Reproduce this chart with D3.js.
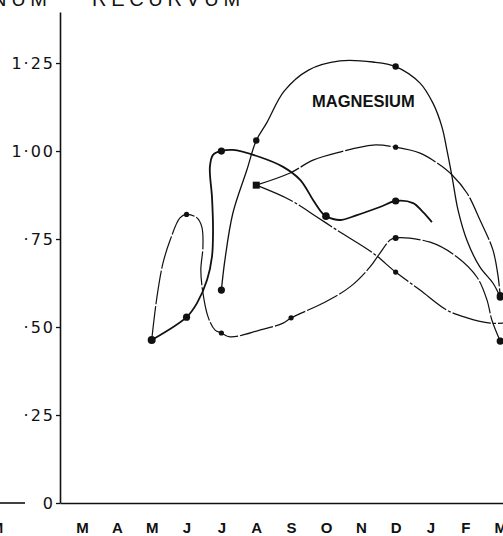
<!DOCTYPE html>
<html><head><meta charset="utf-8">
<script src="https://cdn.jsdelivr.net/npm/d3@7"></script>
<style>html,body{margin:0;padding:0;background:#fff;overflow:hidden}</style>
</head><body><svg id="c" width="503" height="536"></svg>
<script>
// ---- DATA (month index: 0 = March ... 12 = following March) ----
const monthLabels = ["M","A","M","J","J","A","S","O","N","D","J","F","M"];
const yTickValues = [0, 0.25, 0.5, 0.75, 1.0, 1.25];
const yTickLabels = ["0","·25","·50","·75","1·00","1·25"];
const titleParts = ["NUM", "RECURVUM"];
const seriesLabel = "MAGNESIUM";

// Magnesium (marked observations)
const magMonths = [4, 5, 9, 12];
const magValues = [0.605, 1.03, 1.24, 0.585];
// Magnesium curve as drawn
const magTraceMonths = [4, 4.1, 4.33, 4.73, 5, 5.3, 5.8, 6.5, 7.4, 8.35, 9, 9.7, 10.07, 10.33, 10.47, 10.62, 10.79, 11.05, 11.42, 11.79, 12];
const magTraceValues = [0.605, 0.69, 0.824, 0.946, 1.03, 1.08, 1.17, 1.23, 1.256, 1.253, 1.24, 1.193, 1.136, 1.068, 1.003, 0.926, 0.832, 0.745, 0.67, 0.625, 0.585];

// Series B
const bMonths = [2, 3, 4, 7, 9];
const bValues = [0.463, 0.528, 1.0, 0.815, 0.858];
const bTraceMonths = [2, 3, 3.3, 3.59, 3.73, 3.76, 3.73, 3.67, 3.76, 4, 4.33, 5.1, 5.77, 6.26, 6.63, 6.89, 7, 7.4, 7.89, 8.55, 9, 9.5, 9.78, 10.04];
const bTraceValues = [0.463, 0.528, 0.568, 0.634, 0.70, 0.776, 0.869, 0.955, 0.989, 1.0, 1.003, 0.983, 0.955, 0.918, 0.861, 0.824, 0.815, 0.804, 0.818, 0.841, 0.858, 0.852, 0.827, 0.798];

// Series C
const cMonths = [3, 4, 6, 9, 12];
const cValues = [0.82, 0.483, 0.526, 0.753, 0.46];
const cTraceMonths = [2, 2.15, 2.32, 2.53, 2.81, 3, 3.3, 3.44, 3.47, 3.41, 3.47, 3.62, 3.82, 4, 4.25, 5.1, 5.77, 6, 6.92, 7.69, 8.26, 8.55, 8.84, 9, 9.99, 10.76, 11.33, 11.62, 11.76, 12];
const cTraceValues = [0.463, 0.585, 0.68, 0.747, 0.81, 0.82, 0.81, 0.784, 0.727, 0.662, 0.597, 0.528, 0.491, 0.483, 0.472, 0.491, 0.511, 0.526, 0.568, 0.614, 0.67, 0.71, 0.747, 0.753, 0.741, 0.699, 0.642, 0.577, 0.52, 0.46];

// Series D (square start)
const dMonths = [5, 9];
const dValues = [0.903, 0.656];
const dTraceMonths = [5, 5.97, 6.74, 7.4, 8.35, 9, 9.7, 10.47, 11.05, 11.71, 12.1];
const dTraceValues = [0.903, 0.861, 0.8125, 0.77, 0.71, 0.656, 0.605, 0.548, 0.526, 0.511, 0.511];

// Series E
const eMonths = [9, 12];
const eValues = [1.011, 0.59];
const eTraceMonths = [5, 5.97, 6.63, 7.4, 8.35, 9, 9.7, 10.19, 10.62, 11.05, 11.42, 11.79, 11.93, 12];
const eTraceValues = [0.903, 0.9375, 0.974, 0.997, 1.017, 1.011, 0.994, 0.966, 0.932, 0.88, 0.804, 0.719, 0.65, 0.59];

// ---- DRAWING ----
const svg = d3.select("#c");
const x = d3.scaleLinear().domain([-0.631, 12.08]).range([60, 503]);
const y = d3.scaleLinear().domain([0, 1.395]).range([503, 12]);
const ink = "#111";

// title fragment (cut off at top, as in the source figure)
svg.append("text").attr("x", -8).attr("y", 6).text(titleParts[0])
  .attr("font-family", "Liberation Sans, Arial, sans-serif").attr("font-size", 20)
  .attr("letter-spacing", 4.7).attr("fill", ink);
svg.append("text").attr("x", 92).attr("y", 6).text(titleParts[1])
  .attr("font-family", "Liberation Sans, Arial, sans-serif").attr("font-size", 20)
  .attr("letter-spacing", 4.7).attr("fill", ink);

// neighbouring panel remnants
svg.append("line").attr("x1", 0).attr("x2", 25).attr("y1", y(0)).attr("y2", y(0))
  .attr("stroke", ink).attr("stroke-width", 1.6);
svg.append("text").attr("x", -3).attr("y", 533).attr("text-anchor", "middle")
  .text(monthLabels[0]).attr("font-family", "Liberation Sans, Arial, sans-serif")
  .attr("font-size", 15).attr("font-weight", "bold").attr("fill", ink);

// y axis
const yAxis = svg.append("g").attr("transform", `translate(${x(-0.631)},0)`)
  .call(d3.axisLeft(y).tickValues(yTickValues).tickFormat((d, i) => yTickLabels[i])
    .tickSize(4).tickSizeOuter(0).tickPadding(1));
yAxis.select(".domain").attr("stroke", ink).attr("stroke-width", 1.6);
yAxis.selectAll(".tick line").attr("stroke", ink).attr("stroke-width", 1.3);
yAxis.selectAll(".tick text").attr("font-family", "DejaVu Sans, sans-serif")
  .attr("font-size", 16).attr("letter-spacing", 2).attr("fill", ink);

// x axis
const xAxis = svg.append("g").attr("transform", `translate(0,${y(0)})`)
  .call(d3.axisBottom(x).tickValues(d3.range(13)).tickFormat(i => monthLabels[i])
    .tickSize(0).tickSizeOuter(0).tickPadding(19));
xAxis.select(".domain").attr("stroke", ink).attr("stroke-width", 1.6);
xAxis.selectAll(".tick text").attr("font-family", "Liberation Sans, Arial, sans-serif")
  .attr("font-size", 15).attr("font-weight", "bold").attr("fill", ink);

// curves
const line = d3.line().x(d => x(d[0])).y(d => y(d[1])).curve(d3.curveCatmullRom.alpha(0.5));
const zip = (a, b) => a.map((v, i) => [v, b[i]]);
const curves = [
  {m: magTraceMonths, v: magTraceValues, w: 1.3, dash: null},
  {m: bTraceMonths, v: bTraceValues, w: 1.8, dash: null},
  {m: cTraceMonths, v: cTraceValues, w: 1.2, dash: "34,2"},
  {m: dTraceMonths, v: dTraceValues, w: 1.25, dash: "40,2,3,2"},
  {m: eTraceMonths, v: eTraceValues, w: 1.25, dash: "46,2"}
];
svg.append("g").selectAll("path").data(curves).join("path")
  .attr("d", c => line(zip(c.m, c.v)))
  .attr("fill", "none").attr("stroke", ink)
  .attr("stroke-width", c => c.w)
  .attr("stroke-dasharray", c => c.dash);

// markers
const dots = [
  {m: magMonths, v: magValues, r: [3.6, 3.2, 3.2, 3.6]},
  {m: bMonths, v: bValues, r: [4, 3.6, 3.6, 3.8, 3.6]},
  {m: cMonths, v: cValues, r: [2.6, 2.6, 2.6, 3, 3.6]},
  {m: dMonths.slice(1), v: dValues.slice(1), r: [2.6]},
  {m: eMonths, v: eValues, r: [2.6, 3.4]}
];
const mk = svg.append("g");
dots.forEach(s => {
  s.m.forEach((mm, i) => {
    mk.append("circle").attr("cx", x(mm)).attr("cy", y(s.v[i])).attr("r", s.r[i]).attr("fill", ink);
  });
});
// square marker at start of series D / E
mk.append("rect").attr("x", x(dMonths[0]) - 3.5).attr("y", y(dValues[0]) - 3.5)
  .attr("width", 7).attr("height", 7).attr("fill", ink);

// series label
svg.append("text").attr("x", 312).attr("y", 107).text(seriesLabel)
  .attr("font-family", "Liberation Sans, Arial, sans-serif").attr("font-size", 16.5)
  .attr("font-weight", "bold").attr("fill", ink);
</script></body></html>
